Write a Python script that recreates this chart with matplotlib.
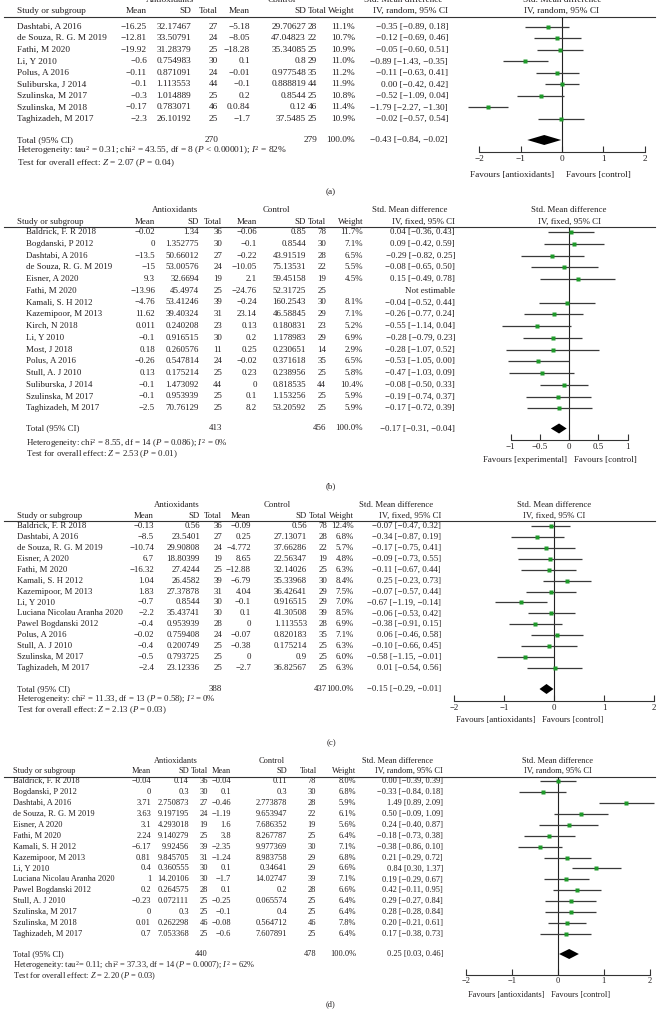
import matplotlib
matplotlib.use("Agg")
import matplotlib.pyplot as plt
import numpy as np

plt.rcParams['font.family'] = ['Liberation Serif', 'DejaVu Serif']
plt.rcParams['mathtext.fontset'] = 'custom'
plt.rcParams['mathtext.rm'] = 'Liberation Serif'
plt.rcParams['mathtext.it'] = 'Liberation Serif:italic'

TXT = '#231f20'
GREEN = '#1f9a2a'
CI = '#3a3a3a'

# ---------------- data: panel (a) ----------------
studies_a = ["Dashtabi, A 2016", "de Souza, R. G. M 2019", "Fathi, M 2020", "Li, Y 2010",
             "Polus, A 2016", "Suliburska, J 2014", "Szulinska, M 2017", "Szulinska, M 2018",
             "Taghizadeh, M 2017"]
ant_mean_a = ["-16.25", "-12.81", "-19.92", "-0.6", "-0.11", "-0.1", "-0.3", "-0.17", "-2.3"]
ant_sd_a = ["32.17467", "33.50791", "31.28379", "0.754983", "0.871091", "1.113553", "1.014889",
            "0.783071", "26.10192"]
ant_n_a = [27, 24, 25, 30, 24, 44, 25, 46, 25]
ctl_mean_a = ["-5.18", "-8.05", "-18.28", "0.1", "-0.01", "-0.1", "0.2", "0.0.84", "-1.7"]
ctl_sd_a = ["29.70627", "47.04823", "35.34085", "0.8", "0.977548", "0.888819", "0.8544", "0.12",
            "37.5485"]
ctl_n_a = [28, 22, 25, 29, 35, 44, 25, 46, 25]
weight_a = ["11.1%", "10.7%", "10.9%", "11.0%", "11.2%", "11.9%", "10.8%", "11.4%", "10.9%"]
smd_a = [-0.35, -0.12, -0.05, -0.89, -0.11, 0.00, -0.52, -1.79, -0.02]
lo_a = [-0.89, -0.69, -0.60, -1.43, -0.63, -0.42, -1.09, -2.27, -0.57]
hi_a = [0.18, 0.46, 0.51, -0.35, 0.41, 0.42, 0.04, -1.30, 0.54]
total_a = (270, 279, -0.43, -0.84, -0.02)
het_a = r"Heterogeneity: tau$^2$ = 0.31; chi$^2$ = 43.55, df = 8 ($P$ < 0.00001); $I^2$ = 82%"
test_a = r"Test for overall effect: $Z$ = 2.07 ($P$ = 0.04)"
ticks_a = [-2, -1, 0, 1, 2]

# ---------------- data: panel (b) ----------------
studies_b = ["Baldrick, F. R 2018", "Bogdanski, P 2012", "Dashtabi, A 2016", "de Souza, R. G. M 2019",
             "Eisner, A 2020", "Fathi, M 2020", "Kamali, S. H 2012", "Kazemipoor, M 2013",
             "Kirch, N 2018", "Li, Y 2010", "Most, J 2018", "Polus, A 2016", "Stull, A. J 2010",
             "Suliburska, J 2014", "Szulinska, M 2017", "Taghizadeh, M 2017"]
ant_mean_b = ["-0.02", "0", "-13.5", "-15", "9.3", "-13.96", "-4.76", "11.62", "0.011", "-0.1",
              "0.18", "-0.26", "0.13", "-0.1", "-0.1", "-2.5"]
ant_sd_b = ["1.34", "1.352775", "50.66012", "53.00576", "32.6694", "45.4974", "53.41246",
            "39.40324", "0.240208", "0.916515", "0.260576", "0.547814", "0.175214", "1.473092",
            "0.953939", "70.76129"]
ant_n_b = [36, 30, 27, 24, 19, 25, 39, 31, 23, 30, 11, 24, 25, 44, 25, 25]
ctl_mean_b = ["-0.06", "-0.1", "-0.22", "-10.05", "2.1", "-24.76", "-0.24", "23.14", "0.13", "0.2",
              "0.25", "-0.02", "0.23", "0", "0.1", "8.2"]
ctl_sd_b = ["0.85", "0.8544", "43.91519", "75.13531", "59.45158", "52.31725", "160.2543",
            "46.58845", "0.180831", "1.178983", "0.230651", "0.371618", "0.238956", "0.818535",
            "1.153256", "53.20592"]
ctl_n_b = [78, 30, 28, 22, 19, 25, 30, 29, 23, 29, 14, 35, 25, 44, 25, 25]
weight_b = ["11.7%", "7.1%", "6.5%", "5.5%", "4.5%", "", "8.1%", "7.1%", "5.2%", "6.9%", "2.9%",
            "6.5%", "5.8%", "10.4%", "5.9%", "5.9%"]
smd_b = [0.04, 0.09, -0.29, -0.08, 0.15, np.nan, -0.04, -0.26, -0.55, -0.28, -0.28, -0.53, -0.47,
         -0.08, -0.19, -0.17]
lo_b = [-0.36, -0.42, -0.82, -0.65, -0.49, np.nan, -0.52, -0.77, -1.14, -0.79, -1.07, -1.05, -1.03,
        -0.50, -0.74, -0.72]
hi_b = [0.43, 0.59, 0.25, 0.50, 0.78, np.nan, 0.44, 0.24, 0.04, 0.23, 0.52, 0.00, 0.09, 0.33,
        0.37, 0.39]
total_b = (413, 456, -0.17, -0.31, -0.04)
het_b = r"Heterogeneity: chi$^2$ = 8.55, df = 14 ($P$ = 0.086); $I^2$ = 0%"
test_b = r"Test for overall effect: $Z$ = 2.53 ($P$ = 0.01)"
ticks_b = [-1, -0.5, 0, 0.5, 1]

# ---------------- data: panel (c) ----------------
studies_c = ["Baldrick, F. R 2018", "Dashtabi, A 2016", "de Souza, R. G. M 2019", "Eisner, A 2020",
             "Fathi, M 2020", "Kamali, S. H 2012", "Kazemipoor, M 2013", "Li, Y 2010",
             "Luciana Nicolau Aranha 2020", "Pawel Bogdanski 2012", "Polus, A 2016",
             "Stull, A. J 2010", "Szulinska, M 2017", "Taghizadeh, M 2017"]
ant_mean_c = ["-0.13", "-8.5", "-10.74", "6.7", "-16.32", "1.04", "1.83", "-0.7", "-2.2", "-0.4",
              "-0.02", "-0.4", "-0.5", "-2.4"]
ant_sd_c = ["0.56", "23.5401", "29.90808", "18.80399", "27.4244", "26.4582", "27.37878", "0.8544",
            "35.43741", "0.953939", "0.759408", "0.200749", "0.793725", "23.12336"]
ant_n_c = [36, 27, 24, 19, 25, 39, 31, 30, 30, 28, 24, 25, 25, 25]
ctl_mean_c = ["-0.09", "0.25", "-4.772", "8.65", "-12.88", "-6.79", "4.04", "-0.1", "0.1", "0",
              "-0.07", "-0.38", "0", "-2.7"]
ctl_sd_c = ["0.56", "27.13071", "37.66286", "22.56347", "32.14026", "35.33968", "36.42641",
            "0.916515", "41.30508", "1.113553", "0.820183", "0.175214", "0.9", "36.82567"]
ctl_n_c = [78, 28, 22, 19, 25, 30, 29, 29, 39, 28, 35, 25, 25, 25]
weight_c = ["12.4%", "6.8%", "5.7%", "4.8%", "6.3%", "8.4%", "7.5%", "7.0%", "8.5%", "6.9%",
            "7.1%", "6.3%", "6.0%", "6.3%"]
smd_c = [-0.07, -0.34, -0.17, -0.09, -0.11, 0.25, -0.07, -0.67, -0.06, -0.38, 0.06, -0.10, -0.58, 0.01]
lo_c = [-0.47, -0.87, -0.75, -0.73, -0.67, -0.23, -0.57, -1.19, -0.53, -0.91, -0.46, -0.66, -1.15, -0.54]
hi_c = [0.32, 0.19, 0.41, 0.55, 0.44, 0.73, 0.44, -0.14, 0.42, 0.15, 0.58, 0.45, -0.01, 0.56]
total_c = (388, 437, -0.15, -0.29, -0.01)
het_c = r"Heterogeneity: chi$^2$ = 11.33, df = 13 ($P$ = 0.58); $I^2$ = 0%"
test_c = r"Test for overall effect: $Z$ = 2.13 ($P$ = 0.03)"
ticks_c = [-2, -1, 0, 1, 2]

# ---------------- data: panel (d) ----------------
studies_d = ["Baldrick, F. R 2018", "Bogdanski, P 2012", "Dashtabi, A 2016", "de Souza, R. G. M 2019",
             "Eisner, A 2020", "Fathi, M 2020", "Kamali, S. H 2012", "Kazemipoor, M 2013",
             "Li, Y 2010", "Luciana Nicolau Aranha 2020", "Pawel Bogdanski 2012",
             "Stull, A. J 2010", "Szulinska, M 2017", "Szulinska, M 2018", "Taghizadeh, M 2017"]
ant_mean_d = ["-0.04", "0", "3.71", "3.63", "3.1", "2.24", "-6.17", "0.81", "0.4", "1", "0.2",
              "-0.23", "0", "0.01", "0.7"]
ant_sd_d = ["0.14", "0.3", "2.750873", "9.197195", "4.293018", "9.140279", "9.92456", "9.845705",
            "0.360555", "14.20106", "0.264575", "0.072111", "0.3", "0.262298", "7.053368"]
ant_n_d = [36, 30, 27, 24, 19, 25, 39, 31, 30, 30, 28, 25, 25, 46, 25]
ctl_mean_d = ["-0.04", "0.1", "-0.46", "-1.19", "1.6", "3.8", "-2.35", "-1.24", "0.1", "-1.7",
              "0.1", "-0.25", "-0.1", "-0.08", "-0.6"]
ctl_sd_d = ["0.11", "0.3", "2.773878", "9.653947", "7.686352", "8.267787", "9.977369", "8.983758",
            "0.34641", "14.02747", "0.2", "0.065574", "0.4", "0.564712", "7.607891"]
ctl_n_d = [78, 30, 28, 22, 19, 25, 30, 29, 29, 39, 28, 25, 25, 46, 25]
weight_d = ["8.0%", "6.8%", "5.9%", "6.1%", "5.6%", "6.4%", "7.1%", "6.8%", "6.6%", "7.1%",
            "6.6%", "6.4%", "6.4%", "7.8%", "6.4%"]
smd_d = [0.00, -0.33, 1.49, 0.50, 0.24, -0.18, -0.38, 0.21, 0.84, 0.19, 0.42, 0.29, 0.28, 0.20, 0.17]
lo_d = [-0.39, -0.84, 0.89, -0.09, -0.40, -0.73, -0.86, -0.29, 0.30, -0.29, -0.11, -0.27, -0.28, -0.21, -0.38]
hi_d = [0.39, 0.18, 2.09, 1.09, 0.87, 0.38, 0.10, 0.72, 1.37, 0.67, 0.95, 0.84, 0.84, 0.61, 0.73]
total_d = (440, 478, 0.25, 0.03, 0.46)
het_d = r"Heterogeneity: tau$^2$= 0.11; chi$^2$ = 37.33, df = 14 ($P$ = 0.0007); $I^2$ = 62%"
test_d = r"Test for overall effect: $Z$ = 2.20 ($P$ = 0.03)"
ticks_d = [-2, -1, 0, 1, 2]

W, H = 662, 1019
fig = plt.figure(figsize=(W / 100, H / 100), dpi=100)
bg = fig.add_axes([0, 0, 1, 1])
bg.set_xlim(0, W)
bg.set_ylim(H, 0)
bg.axis('off')


def m(s):
    return s.replace('-', '\u2212')


def eff(e, l, h):
    if np.isnan(e):
        return "Not estimable"
    return m(f"{e:.2f} [{l:.2f}, {h:.2f}]")


def forest(L, studies, am, asd, an, cm, csd, cn, wt, smd, lo, hi, tot, het, test, ticks,
           method, fav_left, label):
    fs = L['fs']
    kw = dict(fontsize=fs, color=TXT, va='center')
    rows = L['y0'] + L['dy'] * np.arange(len(studies))
    # headers
    bg.text(L['ant_c'], L['yg'], "Antioxidants", ha='center', **kw)
    bg.text(L['ctl_c'], L['yg'], "Control", ha='center', **kw)
    bg.text(L['eff'] - 45, L['yg'], "Std. Mean difference", ha='center', **kw)
    bg.text(L['zero'], L['yg'], "Std. Mean difference", ha='center', **kw)
    bg.text(L['xh'], L['yh'], "Study or subgroup", ha='left', **kw)
    for key, t in [('mean', 'Mean'), ('sd', 'SD'), ('n', 'Total'), ('cmean', 'Mean'),
                   ('csd', 'SD'), ('cnh', 'Total'), ('w', 'Weight')]:
        bg.text(L[key], L['yh'], t, ha='right', **kw)
    bg.text(L['eff'], L['yh'], f"IV, {method}, 95% CI", ha='right', **kw)
    bg.text(L['zero'], L['yh'], f"IV, {method}, 95% CI", ha='center', **kw)
    bg.axhline(L['yl'], xmin=L['lx0'] / W, xmax=L['lx1'] / W, color='#333', lw=0.8)
    # study rows
    for i, y in enumerate(rows):
        bg.text(L['xs'], y, studies[i], ha='left', **kw)
        bg.text(L['mean'], y, m(am[i]), ha='right', **kw)
        bg.text(L['sd'], y, asd[i], ha='right', **kw)
        bg.text(L['n'], y, str(an[i]), ha='right', **kw)
        bg.text(L['cmean'], y, m(cm[i]), ha='right', **kw)
        bg.text(L['csd'], y, csd[i], ha='right', **kw)
        bg.text(L['cn'], y, str(cn[i]), ha='right', **kw)
        bg.text(L['w'], y, wt[i], ha='right', **kw)
        bg.text(L['eff'], y, eff(smd[i], lo[i], hi[i]), ha='right', **kw)
    # totals
    bg.text(L['xs'], L['yt'], "Total (95% CI)", ha='left', **kw)
    bg.text(L['n'], L['yt'], str(tot[0]), ha='right', **kw)
    bg.text(L['cn'], L['yt'], str(tot[1]), ha='right', **kw)
    bg.text(L['w'], L['yt'], "100.0%", ha='right', **kw)
    bg.text(L['eff'], L['yt'], eff(*tot[2:]), ha='right', **kw)
    bg.text(L['xs'], L['yhet'], het, ha='left', **kw)
    bg.text(L['xs'], L['ytest'], test, ha='left', **kw)
    bg.text(W / 2, L['ylab'], label, ha='center', **kw)
    # plot axes: pixel rows vertically, effect size horizontally
    u, z = L['unit'], L['zero']
    x0, x1 = L['px0'], L['px1']
    ax = fig.add_axes([x0 / W, 1 - L['yax'] / H, (x1 - x0) / W, (L['yax'] - L['yl']) / H])
    ax.set_xlim((x0 - z) / u, (x1 - z) / u)
    ax.set_ylim(L['yax'], L['yl'])
    ax.patch.set_visible(False)
    for s in ['top', 'right', 'left']:
        ax.spines[s].set_visible(False)
    ax.spines['bottom'].set_bounds(ticks[0], ticks[-1])
    ax.spines['bottom'].set_color('#333')
    ax.spines['bottom'].set_linewidth(0.8)
    ax.set_yticks([])
    ax.set_xticks(ticks)
    ax.set_xticklabels([m(f"{t:g}") for t in ticks])
    ax.tick_params(axis='x', direction='in', length=4, width=0.8, color='#333',
                   labelsize=fs, labelcolor=TXT, pad=2)
    ax.axvline(0, color='#222', lw=0.8)
    ax.hlines(rows, lo, hi, color=CI, lw=0.9, clip_on=False)
    ax.plot(smd, rows, 's', color=GREEN, ms=2.5, mec='none', clip_on=False)
    e, l, h = tot[2:]
    hh = 5
    ax.fill([l, e, h, e], [L['yt'], L['yt'] - hh, L['yt'], L['yt'] + hh], color='black',
            lw=0, clip_on=False)
    bg.text(z + L['fl'], L['yfav'], f"Favours [{fav_left}]", ha='right', **kw)
    bg.text(z + L['fr'], L['yfav'], "Favours [control]", ha='left', **kw)


lay_a = dict(fs=6.7, xs=17, xh=17, mean=147, sd=191, n=218, cmean=250, csd=306, cn=317, cnh=327,
             w=355, eff=448, ant_c=170, ctl_c=282, yg=0, yh=11, yl=17, y0=26.7, dy=11.54, yt=140,
             yhet=150, ytest=163, ylab=192, lx0=4, lx1=655, zero=562, unit=41.3, px0=440, px1=655,
             yax=152, yfav=175, fl=-8, fr=4)
lay_b = dict(fs=6.4, xs=26, xh=17, mean=155, sd=199, n=222, cmean=257, csd=306, cn=326, cnh=326,
             w=363, eff=455, ant_c=175, ctl_c=276, yg=210, yh=222, yl=227, y0=232, dy=11.75,
             yt=428.5, yhet=443, ytest=454, ylab=486, lx0=4, lx1=655, zero=569, unit=58.5,
             px0=460, px1=655, yax=440, yfav=460, fl=-2, fr=5)
lay_c = dict(fs=6.3, xs=17, xh=17, mean=154, sd=200, n=222, cmean=251, csd=307, cn=327, cnh=327,
             w=354, eff=441, ant_c=177, ctl_c=277, yg=505, yh=516, yl=521, y0=526, dy=10.92,
             yt=689, yhet=699.5, ytest=710, ylab=743, lx0=4, lx1=655, zero=554, unit=50,
             px0=445, px1=660, yax=701, yfav=720, fl=-19, fr=-12)
lay_d = dict(fs=6.0, xs=13, xh=13, mean=151, sd=189, n=208, cmean=231, csd=287, cn=316, cnh=317,
             w=356, eff=443, ant_c=176, ctl_c=272, yg=761, yh=771, yl=777, y0=781, dy=10.93,
             yt=954, yhet=965, ytest=976, ylab=1004, lx0=4, lx1=655, zero=557.7, unit=46,
             px0=445, px1=660, yax=974.5, yfav=995, fl=-13, fr=-7)

forest(lay_a, studies_a, ant_mean_a, ant_sd_a, ant_n_a, ctl_mean_a, ctl_sd_a, ctl_n_a, weight_a,
       smd_a, lo_a, hi_a, total_a, het_a, test_a, ticks_a, "random", "antioxidants", "(a)")
forest(lay_b, studies_b, ant_mean_b, ant_sd_b, ant_n_b, ctl_mean_b, ctl_sd_b, ctl_n_b, weight_b,
       smd_b, lo_b, hi_b, total_b, het_b, test_b, ticks_b, "fixed", "experimental", "(b)")
forest(lay_c, studies_c, ant_mean_c, ant_sd_c, ant_n_c, ctl_mean_c, ctl_sd_c, ctl_n_c, weight_c,
       smd_c, lo_c, hi_c, total_c, het_c, test_c, ticks_c, "fixed", "antioxidants", "(c)")
forest(lay_d, studies_d, ant_mean_d, ant_sd_d, ant_n_d, ctl_mean_d, ctl_sd_d, ctl_n_d, weight_d,
       smd_d, lo_d, hi_d, total_d, het_d, test_d, ticks_d, "random", "antioxidants", "(d)")

fig.savefig("out.png", dpi=100)
